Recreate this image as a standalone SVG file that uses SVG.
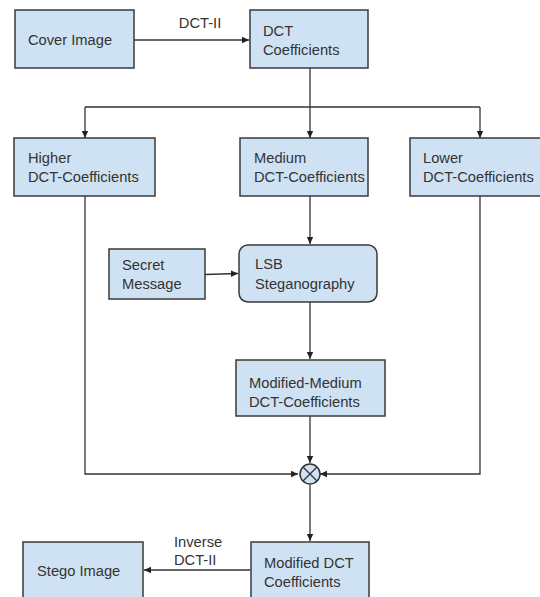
<svg xmlns="http://www.w3.org/2000/svg" width="540" height="597" viewBox="0 0 540 597">
<defs>
<style>
.box{fill:#cfe2f3;stroke:#3a3a3a;stroke-width:1.5}
.t{font-family:"Liberation Sans",Arial,sans-serif;font-size:14.7px;fill:#333}
.c{fill:none;stroke:#333;stroke-width:1.3}
</style>
<marker id="ah" markerWidth="8" markerHeight="8" refX="7" refY="4" orient="auto" markerUnits="userSpaceOnUse">
<path d="M0,0.8 L7,4 L0,7.2 Z" fill="#222"/>
</marker>
</defs>
<rect width="540" height="597" fill="#fff"/>
<g id="connectors">
<line class="c" x1="134" y1="40" x2="249" y2="40" marker-end="url(#ah)"/>
<text class="t" x="200" y="28" text-anchor="middle">DCT-II</text>
<polyline class="c" points="310,68 310,107"/>
<line class="c" x1="85" y1="107" x2="480" y2="107"/>
<line class="c" x1="85" y1="107" x2="85" y2="138" marker-end="url(#ah)"/>
<line class="c" x1="310" y1="107" x2="310" y2="138" marker-end="url(#ah)"/>
<line class="c" x1="480" y1="107" x2="480" y2="138" marker-end="url(#ah)"/>
<line class="c" x1="310" y1="196" x2="310" y2="244" marker-end="url(#ah)"/>
<line class="c" x1="205" y1="274.5" x2="238" y2="273.5" marker-end="url(#ah)"/>
<line class="c" x1="310" y1="302" x2="310" y2="359" marker-end="url(#ah)"/>
<polyline class="c" points="85,196 85,474 298,474" marker-end="url(#ah)"/>
<polyline class="c" points="480,196 480,474 320,474" marker-end="url(#ah)"/>
<line class="c" x1="310" y1="416" x2="310" y2="463" marker-end="url(#ah)"/>
<line class="c" x1="310" y1="485" x2="310" y2="541" marker-end="url(#ah)"/>
<line class="c" x1="250" y1="570" x2="144" y2="570" marker-end="url(#ah)"/>
<text class="t" x="174" y="547">Inverse</text>
<text class="t" x="174" y="565">DCT-II</text>
</g>
<g id="cover">
<rect class="box" x="15" y="10" width="119" height="58"/>
<text class="t" x="28" y="45">Cover Image</text>
</g>
<g id="dct">
<rect class="box" x="250" y="10" width="118" height="58"/>
<text class="t" x="263" y="36">DCT</text>
<text class="t" x="263" y="55">Coefficients</text>
</g>
<g id="higher">
<rect class="box" x="14" y="138" width="141" height="58"/>
<text class="t" x="28" y="163">Higher</text>
<text class="t" x="28" y="182">DCT-Coefficients</text>
</g>
<g id="medium">
<rect class="box" x="240" y="138" width="128" height="58"/>
<text class="t" x="254" y="163">Medium</text>
<text class="t" x="254" y="182">DCT-Coefficients</text>
</g>
<g id="lower">
<rect class="box" x="410" y="138" width="140" height="58"/>
<text class="t" x="423" y="163">Lower</text>
<text class="t" x="423" y="182">DCT-Coefficients</text>
</g>
<g id="secret">
<rect class="box" x="109" y="249" width="96" height="50"/>
<text class="t" x="122" y="270">Secret</text>
<text class="t" x="122" y="289">Message</text>
</g>
<g id="lsb">
<rect class="box" x="239" y="245" width="138" height="57" rx="9"/>
<text class="t" x="255" y="269">LSB</text>
<text class="t" x="255" y="289">Steganography</text>
</g>
<g id="modmedium">
<rect class="box" x="236" y="360" width="149" height="56"/>
<text class="t" x="249" y="388">Modified-Medium</text>
<text class="t" x="249" y="407">DCT-Coefficients</text>
</g>
<g id="combine">
<circle cx="310" cy="474" r="10" fill="#cfe2f3" stroke="#333" stroke-width="1.5"/>
<line x1="303" y1="467" x2="317" y2="481" stroke="#333" stroke-width="1.3"/>
<line x1="317" y1="467" x2="303" y2="481" stroke="#333" stroke-width="1.3"/>
</g>
<g id="moddct">
<rect class="box" x="251" y="542" width="118" height="70"/>
<text class="t" x="264" y="568">Modified DCT</text>
<text class="t" x="264" y="587">Coefficients</text>
</g>
<g id="stego">
<rect class="box" x="23" y="542" width="120" height="70"/>
<text class="t" x="37" y="576">Stego Image</text>
</g>
</svg>
